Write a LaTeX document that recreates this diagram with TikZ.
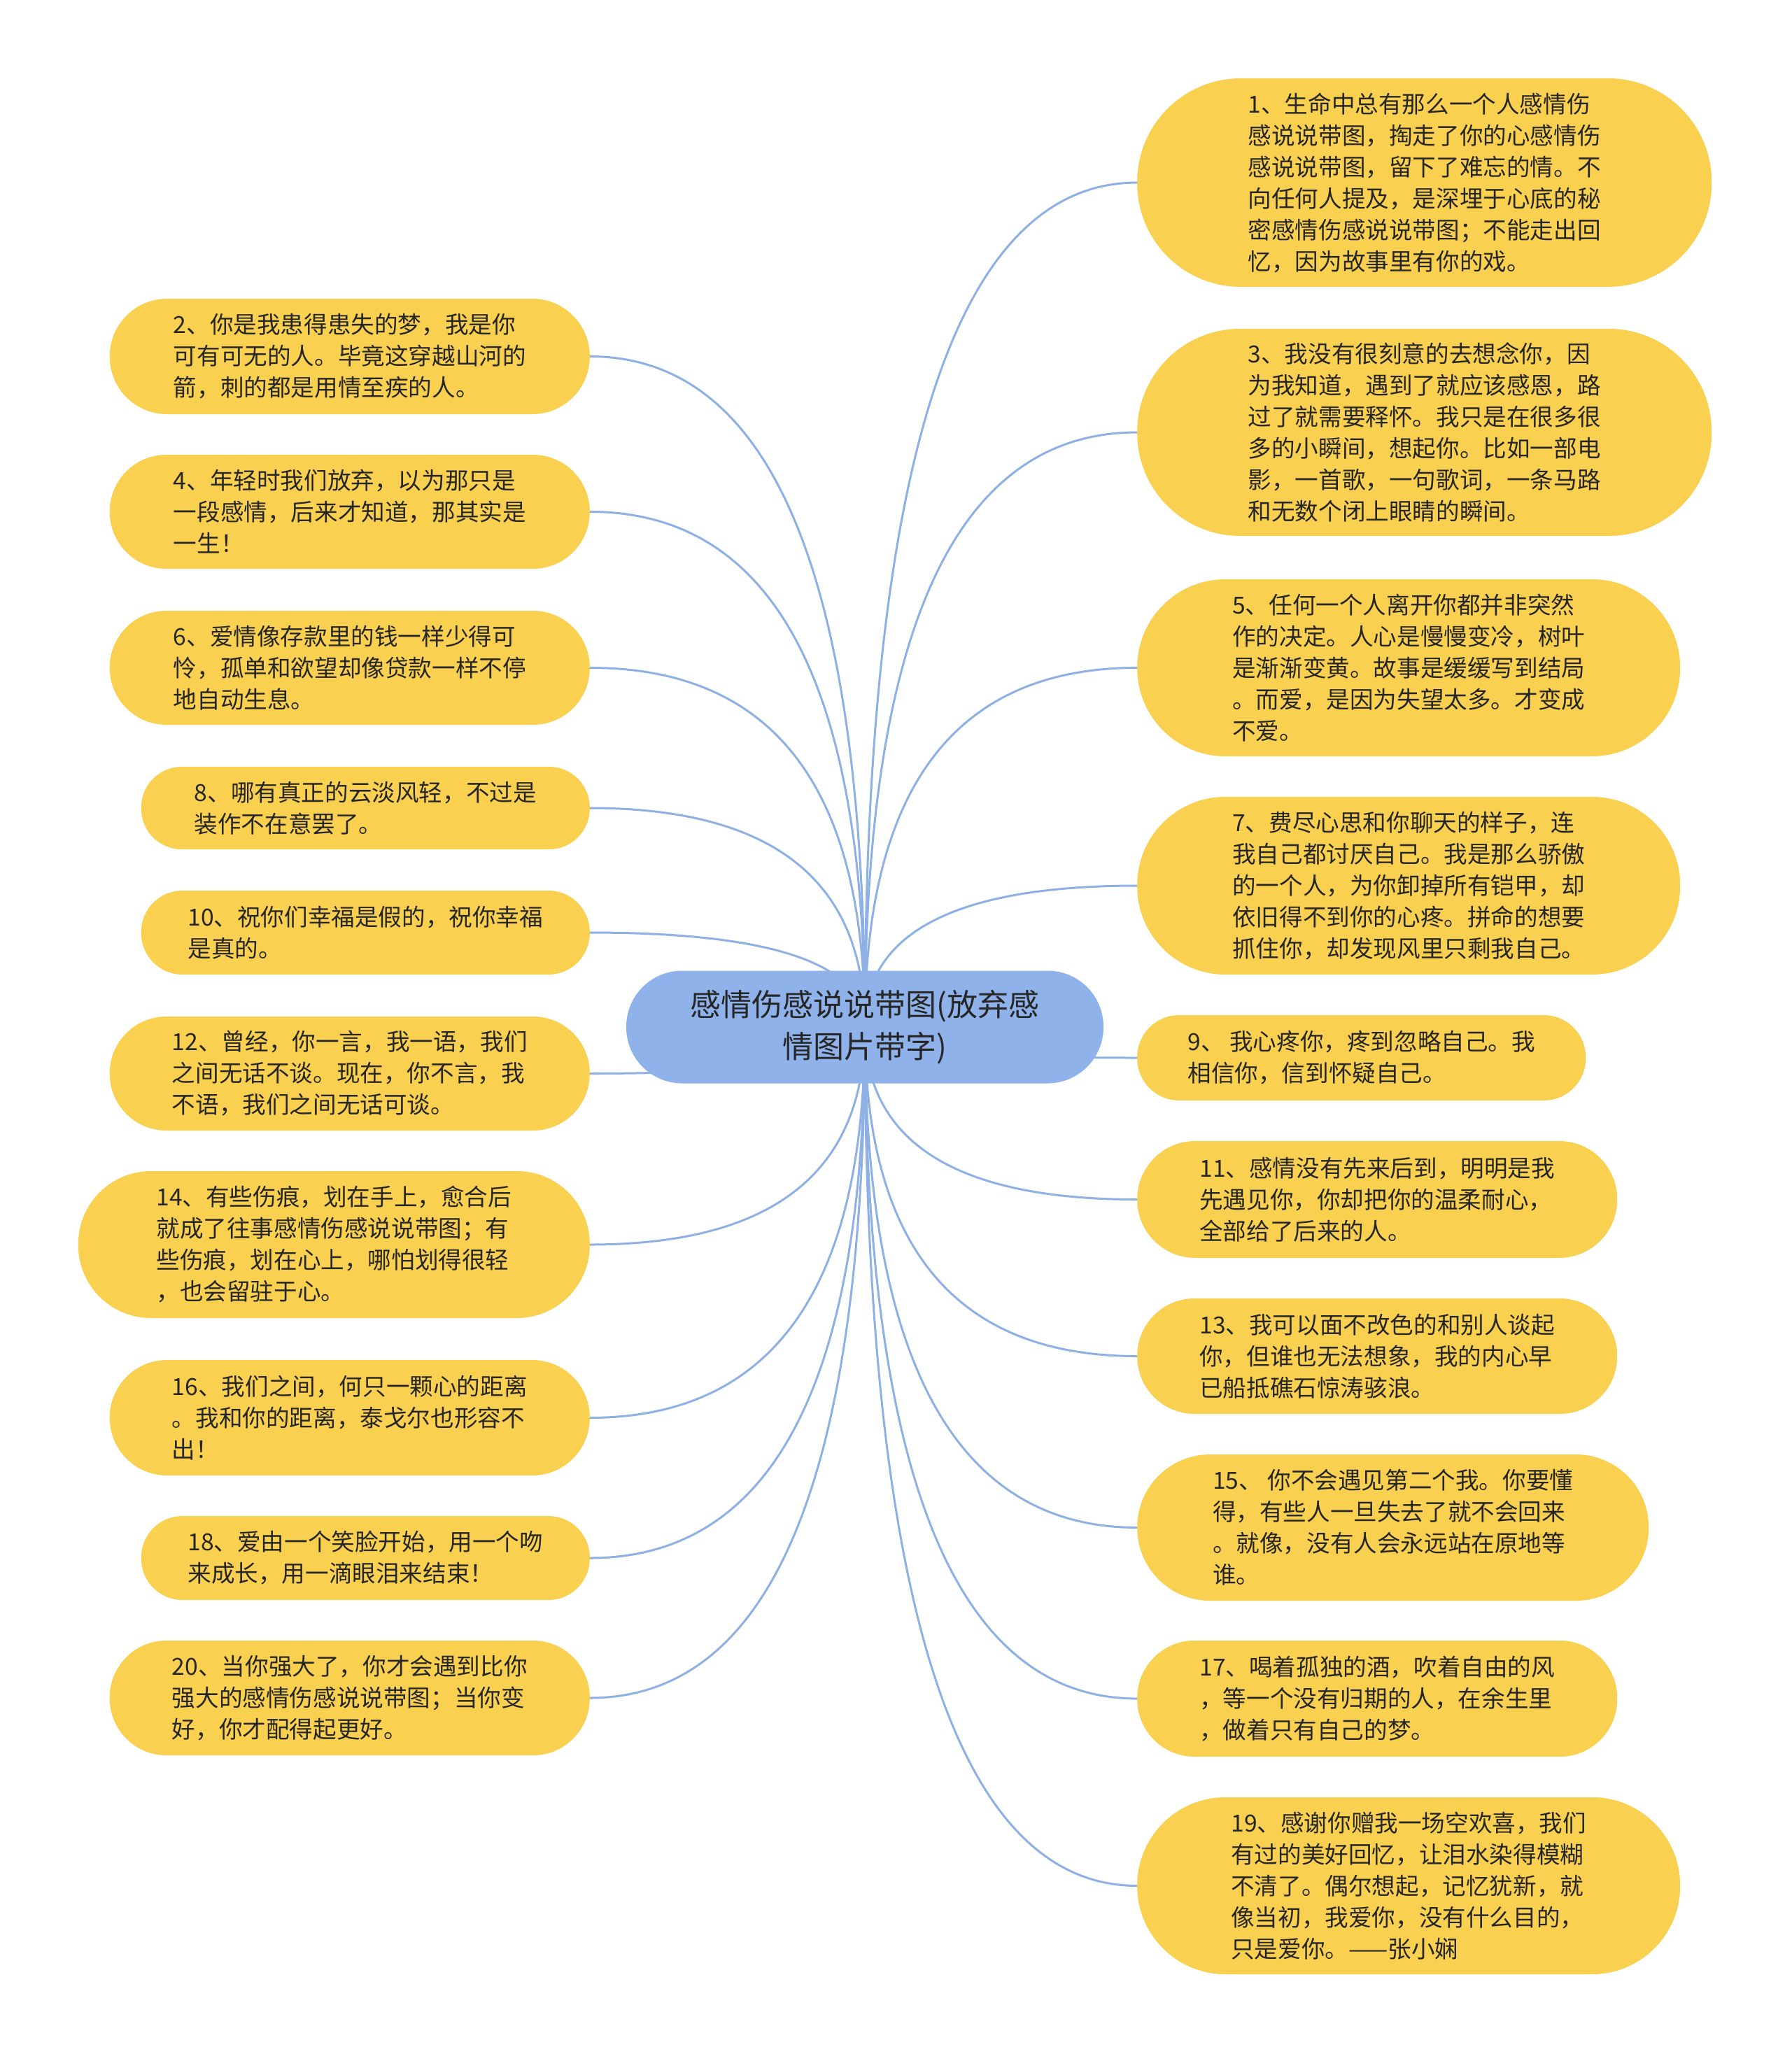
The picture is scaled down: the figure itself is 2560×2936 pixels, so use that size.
\documentclass[tikz,border=0pt]{standalone}
\usepackage{fontspec}
\newfontfamily\cjk{Noto Sans CJK SC}
\usetikzlibrary{calc,backgrounds}
\definecolor{leafc}{RGB}{250,208,80}
\definecolor{rootc}{RGB}{143,178,234}
\definecolor{edgec}{RGB}{142,176,228}
\definecolor{txtc}{RGB}{38,38,38}
\tikzset{
  leaf/.style={fill=leafc, draw=none, align=left, inner sep=0pt, text=txtc,
    font=\cjk\fontsize{33.6}{45}\selectfont},
  rootnode/.style={fill=rootc, draw=none, align=center, inner sep=0pt, text=txtc,
    font=\cjk\fontsize{44}{60}\selectfont},
  edge/.style={draw=edgec, line width=3pt},
}
\newcommand\edgeto[2]{%
  \coordinate (k#1) at (c.center |- #1.#2);
  \draw[edge] (c.center) .. controls ($(c.center)!0.667!(k#1)$) and ($(#1.#2)!0.667!(k#1)$) .. (#1.#2);}
\begin{document}
\begin{tikzpicture}[x=1pt,y=-1pt]
\useasboundingbox (0,0) rectangle (2560,2936);

\node[rootnode, minimum width=682pt, minimum height=161pt, rounded corners=80pt] (c) at (1236,1468) {感情伤感说说带图(放弃感\\情图片带字)};

% left nodes
\node[leaf, anchor=east, minimum width=686pt, minimum height=165pt, rounded corners=82pt] (n2) at (843,509.5) {2、你是我患得患失的梦，我是你\\可有可无的人。毕竟这穿越山河的\\箭，刺的都是用情至疾的人。};
\node[leaf, anchor=east, minimum width=686pt, minimum height=163pt, rounded corners=81pt] (n4) at (843,731.5) {4、年轻时我们放弃，以为那只是\\一段感情，后来才知道，那其实是\\一生！};
\node[leaf, anchor=east, minimum width=686pt, minimum height=163pt, rounded corners=81pt] (n6) at (843,954.5) {6、爱情像存款里的钱一样少得可\\怜，孤单和欲望却像贷款一样不停\\地自动生息。};
\node[leaf, anchor=east, minimum width=641pt, minimum height=118pt, rounded corners=58pt] (n8) at (843,1155) {8、哪有真正的云淡风轻，不过是\\装作不在意罢了。};
\node[leaf, anchor=east, minimum width=641pt, minimum height=120pt, rounded corners=59pt] (n10) at (843,1333) {10、祝你们幸福是假的，祝你幸福\\是真的。};
\node[leaf, anchor=east, minimum width=686pt, minimum height=163pt, rounded corners=81pt] (n12) at (843,1534.5) {12、曾经，你一言，我一语，我们\\之间无话不谈。现在，你不言，我\\不语，我们之间无话可谈。};
\node[leaf, anchor=east, minimum width=731pt, minimum height=210pt, rounded corners=104pt] (n14) at (843,1779) {14、有些伤痕，划在手上，愈合后\\就成了往事感情伤感说说带图；有\\些伤痕，划在心上，哪怕划得很轻\\，也会留驻于心。};
\node[leaf, anchor=east, minimum width=686pt, minimum height=165pt, rounded corners=82pt] (n16) at (843,2026.5) {16、我们之间，何只一颗心的距离\\。我和你的距离，泰戈尔也形容不\\出！};
\node[leaf, anchor=east, minimum width=641pt, minimum height=120pt, rounded corners=59pt] (n18) at (843,2227) {18、爱由一个笑脸开始，用一个吻\\来成长，用一滴眼泪来结束！};
\node[leaf, anchor=east, minimum width=686pt, minimum height=164pt, rounded corners=81pt] (n20) at (843,2427) {20、当你强大了，你才会遇到比你\\强大的感情伤感说说带图；当你变\\好，你才配得起更好。};

% right nodes
\node[leaf, anchor=west, minimum width=821pt, minimum height=298pt, rounded corners=148pt] (n1) at (1625,261) {1、生命中总有那么一个人感情伤\\感说说带图，掏走了你的心感情伤\\感说说带图，留下了难忘的情。不\\向任何人提及，是深埋于心底的秘\\密感情伤感说说带图；不能走出回\\忆，因为故事里有你的戏。};
\node[leaf, anchor=west, minimum width=821pt, minimum height=296pt, rounded corners=147pt] (n3) at (1625,618) {3、我没有很刻意的去想念你，因\\为我知道，遇到了就应该感恩，路\\过了就需要释怀。我只是在很多很\\多的小瞬间，想起你。比如一部电\\影，一首歌，一句歌词，一条马路\\和无数个闭上眼睛的瞬间。};
\node[leaf, anchor=west, minimum width=776pt, minimum height=253pt, rounded corners=126pt] (n5) at (1625,954.5) {5、任何一个人离开你都并非突然\\作的决定。人心是慢慢变冷，树叶\\是渐渐变黄。故事是缓缓写到结局\\。而爱，是因为失望太多。才变成\\不爱。};
\node[leaf, anchor=west, minimum width=776pt, minimum height=254pt, rounded corners=126pt] (n7) at (1625,1266) {7、费尽心思和你聊天的样子，连\\我自己都讨厌自己。我是那么骄傲\\的一个人，为你卸掉所有铠甲，却\\依旧得不到你的心疼。拼命的想要\\抓住你，却发现风里只剩我自己。};
\node[leaf, anchor=west, minimum width=641pt, minimum height=122pt, rounded corners=60pt] (n9) at (1625,1512) {9、 我心疼你，疼到忽略自己。我\\相信你，信到怀疑自己。};
\node[leaf, anchor=west, minimum width=686pt, minimum height=167pt, rounded corners=83pt] (n11) at (1625,1714.5) {11、感情没有先来后到，明明是我\\先遇见你，你却把你的温柔耐心，\\全部给了后来的人。};
\node[leaf, anchor=west, minimum width=686pt, minimum height=165pt, rounded corners=82pt] (n13) at (1625,1938.5) {13、我可以面不改色的和别人谈起\\你，但谁也无法想象，我的内心早\\已船抵礁石惊涛骇浪。};
\node[leaf, anchor=west, minimum width=731pt, minimum height=209pt, rounded corners=104pt] (n15) at (1625,2183.5) {15、 你不会遇见第二个我。你要懂\\得，有些人一旦失去了就不会回来\\。就像，没有人会永远站在原地等\\谁。};
\node[leaf, anchor=west, minimum width=686pt, minimum height=166pt, rounded corners=82pt] (n17) at (1625,2428) {17、喝着孤独的酒，吹着自由的风\\，等一个没有归期的人，在余生里\\，做着只有自己的梦。};
\node[leaf, anchor=west, minimum width=776pt, minimum height=253pt, rounded corners=126pt] (n19) at (1625,2695.5) {19、感谢你赠我一场空欢喜，我们\\有过的美好回忆，让泪水染得模糊\\不清了。偶尔想起，记忆犹新，就\\像当初，我爱你，没有什么目的，\\只是爱你。——张小娴};

\begin{pgfonlayer}{background}
\fill[white] (0,0) rectangle (2560,2936);
\edgeto{n1}{west}\edgeto{n3}{west}\edgeto{n5}{west}\edgeto{n7}{west}\edgeto{n9}{west}
\edgeto{n11}{west}\edgeto{n13}{west}\edgeto{n15}{west}\edgeto{n17}{west}\edgeto{n19}{west}
\edgeto{n2}{east}\edgeto{n4}{east}\edgeto{n6}{east}\edgeto{n8}{east}\edgeto{n10}{east}
\edgeto{n12}{east}\edgeto{n14}{east}\edgeto{n16}{east}\edgeto{n18}{east}\edgeto{n20}{east}
\end{pgfonlayer}
\end{tikzpicture}
\end{document}
